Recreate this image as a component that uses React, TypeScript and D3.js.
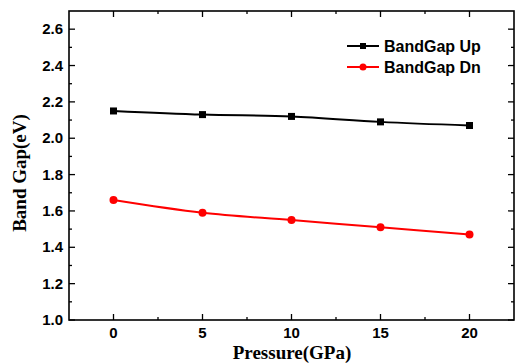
import React, { useEffect, useRef } from 'react';
import * as d3 from 'd3';

const pressure = [0, 5, 10, 15, 20];
const gapUp = [2.15, 2.13, 2.12, 2.09, 2.07];
const gapDn = [1.66, 1.59, 1.55, 1.51, 1.47];
const xTicks = [0, 5, 10, 15, 20];
const yTicks = [1.0, 1.2, 1.4, 1.6, 1.8, 2.0, 2.2, 2.4, 2.6];

const App = () => {
  const svgRef = useRef<SVGSVGElement>(null);

  useEffect(() => {
    const width = 515;
    const height = 364;
    const left = 69;
    const right = 514;
    const top = 11;
    const bottom = 320;

    const svg = d3.select(svgRef.current);
    svg.selectAll('*').remove();

    const x = d3.scaleLinear().domain([-2.5, 22.5]).range([left, right]);
    const y = d3.scaleLinear().domain([1.0, 2.7]).range([bottom, top]);

    const sans = 'Liberation Sans, Arial, sans-serif';
    const serif = 'Liberation Serif, Times New Roman, serif';

    // frame
    svg.append('rect')
      .attr('x', left).attr('y', top)
      .attr('width', right - left).attr('height', bottom - top)
      .attr('fill', 'none').attr('stroke', '#000').attr('stroke-width', 1.6);

    // x ticks (major + minor), bottom and top, inward
    const xMinor = d3.range(-2.5, 22.6, 2.5).filter((v) => v > -2.5 && v < 22.5);
    xMinor.forEach((v) => {
      const major = xTicks.includes(v);
      const len = major ? 6 : 3;
      svg.append('line').attr('x1', x(v)).attr('x2', x(v))
        .attr('y1', bottom).attr('y2', bottom - len)
        .attr('stroke', '#000').attr('stroke-width', 1.3);
      svg.append('line').attr('x1', x(v)).attr('x2', x(v))
        .attr('y1', top).attr('y2', top + len)
        .attr('stroke', '#000').attr('stroke-width', 1.3);
    });

    // y ticks
    const yMinor = d3.range(10, 27).map((v) => v / 10);
    yMinor.forEach((v) => {
      const major = Math.round(v * 10) % 2 === 0;
      const len = major ? 6 : 3;
      svg.append('line').attr('x1', left).attr('x2', left + len)
        .attr('y1', y(v)).attr('y2', y(v))
        .attr('stroke', '#000').attr('stroke-width', 1.3);
      svg.append('line').attr('x1', right).attr('x2', right - len)
        .attr('y1', y(v)).attr('y2', y(v))
        .attr('stroke', '#000').attr('stroke-width', 1.3);
    });

    // tick labels
    svg.append('g').selectAll('text').data(xTicks).enter().append('text')
      .attr('x', (d) => x(d)).attr('y', bottom + 18)
      .attr('text-anchor', 'middle')
      .attr('font-family', sans).attr('font-weight', 'bold').attr('font-size', 15)
      .text((d) => d);

    svg.append('g').selectAll('text').data(yTicks).enter().append('text')
      .attr('x', left - 6).attr('y', (d) => y(d) + 5)
      .attr('text-anchor', 'end')
      .attr('font-family', sans).attr('font-weight', 'bold').attr('font-size', 15)
      .text((d) => d.toFixed(1));

    // axis titles
    svg.append('text')
      .attr('x', 292).attr('y', 359)
      .attr('text-anchor', 'middle')
      .attr('font-family', serif).attr('font-weight', 'bold').attr('font-size', 19)
      .text('Pressure(GPa)');

    svg.append('text')
      .attr('transform', `translate(26,173) rotate(-90)`)
      .attr('text-anchor', 'middle')
      .attr('font-family', serif).attr('font-weight', 'bold').attr('font-size', 19)
      .text('Band Gap(eV)');

    const line = d3.line<number>()
      .x((d, i) => x(pressure[i]))
      .y((d) => y(d))
      .curve(d3.curveCatmullRom.alpha(0.5));

    // BandGap Up
    svg.append('path').datum(gapUp).attr('d', line)
      .attr('fill', 'none').attr('stroke', '#000').attr('stroke-width', 2);
    svg.append('g').selectAll('rect').data(gapUp).enter().append('rect')
      .attr('x', (d, i) => x(pressure[i]) - 3.5).attr('y', (d) => y(d) - 3.5)
      .attr('width', 7).attr('height', 7).attr('fill', '#000');

    // BandGap Dn
    svg.append('path').datum(gapDn).attr('d', line)
      .attr('fill', 'none').attr('stroke', '#ff0000').attr('stroke-width', 2);
    svg.append('g').selectAll('circle').data(gapDn).enter().append('circle')
      .attr('cx', (d, i) => x(pressure[i])).attr('cy', (d) => y(d))
      .attr('r', 4).attr('fill', '#ff0000');

    // legend
    const legend = [
      { name: 'BandGap Up', color: '#000', shape: 'square', yy: 46 },
      { name: 'BandGap Dn', color: '#ff0000', shape: 'circle', yy: 67 },
    ];
    legend.forEach((l) => {
      svg.append('line').attr('x1', 347).attr('x2', 379)
        .attr('y1', l.yy).attr('y2', l.yy)
        .attr('stroke', l.color).attr('stroke-width', 2);
      if (l.shape === 'square') {
        svg.append('rect').attr('x', 360).attr('y', l.yy - 3)
          .attr('width', 6).attr('height', 6).attr('fill', l.color);
      } else {
        svg.append('circle').attr('cx', 363).attr('cy', l.yy)
          .attr('r', 3.5).attr('fill', l.color);
      }
      svg.append('text').attr('x', 384).attr('y', l.yy + 6)
        .attr('font-family', sans).attr('font-weight', 'bold').attr('font-size', 16)
        .text(l.name);
    });

    svg.attr('width', width).attr('height', height);
  }, []);

  return (
    <svg ref={svgRef} style={{ position: 'absolute', left: 0, top: 0, background: '#fff' }}></svg>
  );
};

export default App;
